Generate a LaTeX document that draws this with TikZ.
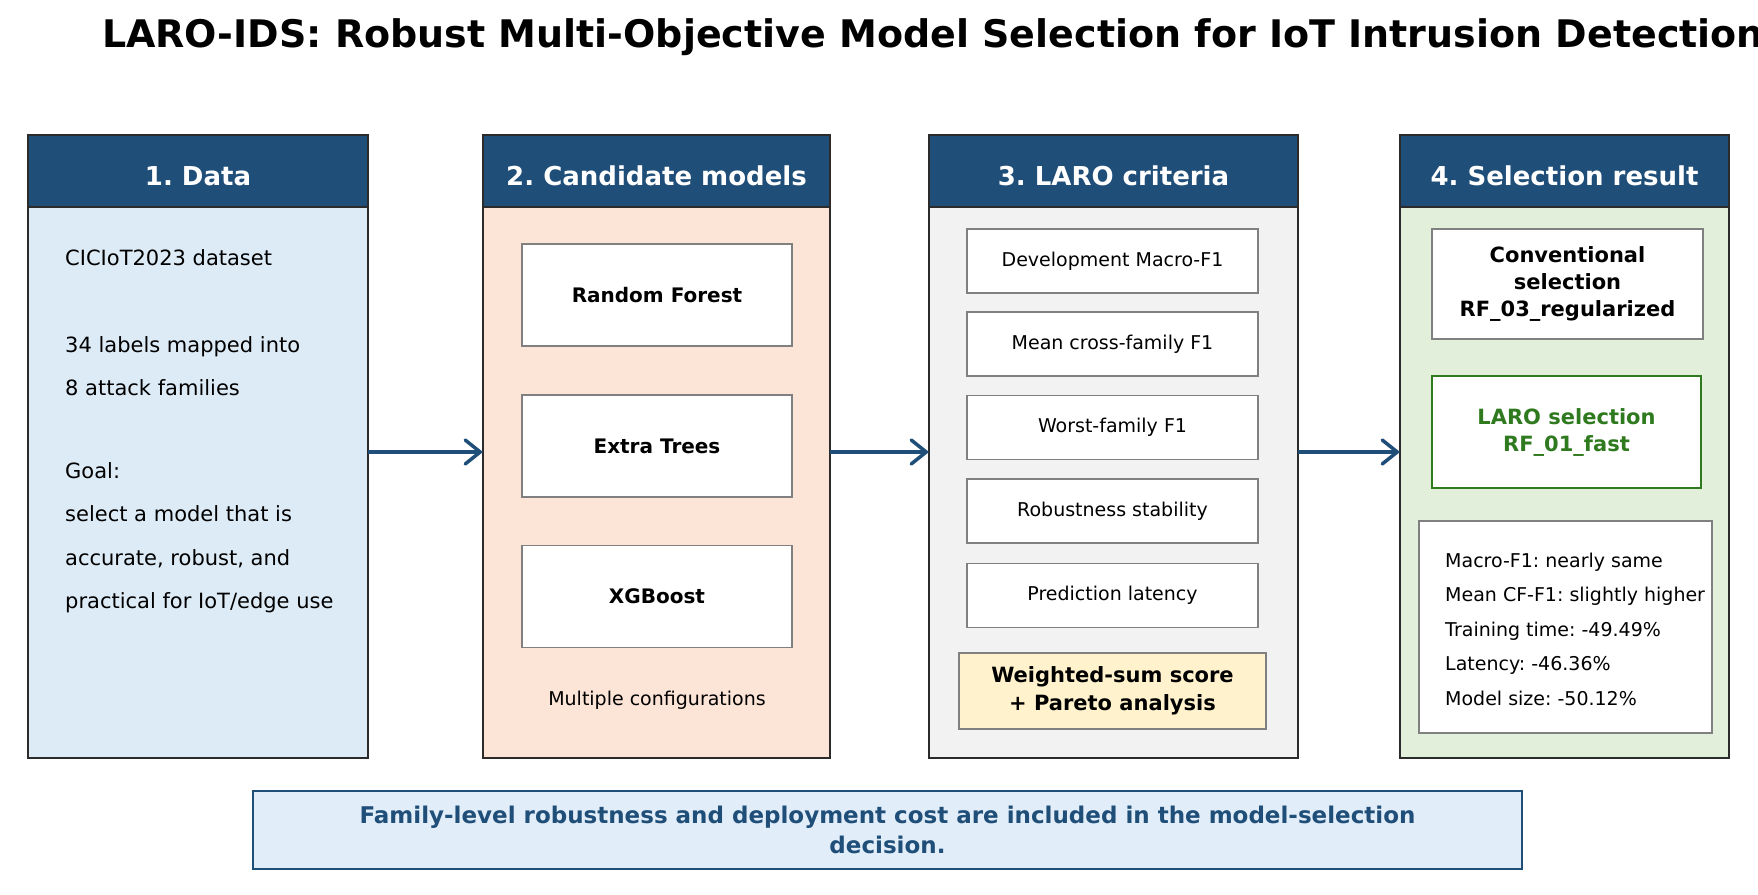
\documentclass[tikz,border=0pt]{standalone}
\usepackage{fontspec}
\setmainfont{DejaVu Sans}
\usetikzlibrary{arrows.meta}
\definecolor{hdr}{HTML}{1F4E79}
\definecolor{edge}{HTML}{2B2B2B}
\definecolor{gbox}{HTML}{808080}
\definecolor{cblue}{HTML}{DDEBF7}
\definecolor{cpeach}{HTML}{FCE4D6}
\definecolor{cgray}{HTML}{F2F2F2}
\definecolor{cgreen}{HTML}{E2EFDA}
\definecolor{cyellow}{HTML}{FFF2CC}
\definecolor{lgreen}{HTML}{2F7A1F}
\definecolor{cnote}{HTML}{E1EDF8}
\newcommand\myfs[2]{\fontsize{#1}{#2}\selectfont}
\frenchspacing
\begin{document}
\frenchspacing
\begin{tikzpicture}[x=1pt,y=-1pt,
  panel/.style={draw=edge, line width=2.5pt, inner sep=0pt, outer sep=0pt},
  header/.style={draw=edge, fill=hdr, line width=2.5pt, inner sep=0pt, outer sep=0pt},
  htext/.style={anchor=base, text=white, font=\frenchspacing\bfseries\myfs{26}{30}, inner sep=0pt},
  body/.style={anchor=base west, font=\frenchspacing\myfs{21}{25}, inner sep=0pt},
  ibox/.style={draw=gbox, fill=white, line width=1.3pt, inner sep=0pt, align=center},
  crit/.style={ibox, minimum width=291pt, minimum height=64pt, font=\myfs{19}{23}},
  model/.style={ibox, minimum width=270pt, minimum height=102pt, font=\bfseries\myfs{20}{24}},
  arr/.style={draw=hdr, line width=3.5pt, -{Straight Barb[length=15pt,width=24pt,line cap=round]}}
]
\useasboundingbox (0,0) rectangle (1758,894);
\fill[white] (0,0) rectangle (1758,894);

% title
\node[font=\frenchspacing\bfseries\myfs{38}{46}, inner sep=0pt] (title) at (933,37)
  {LARO-IDS: Robust Multi-Objective Model Selection for IoT Intrusion Detection};

% panels
\node[panel, fill=cblue, minimum width=340pt, minimum height=623pt] (p1) at (198,446.5) {};
\node[panel, fill=cpeach, minimum width=347pt, minimum height=623pt] (p2) at (656.5,446.5) {};
\node[panel, fill=cgray, minimum width=369pt, minimum height=623pt] (p3) at (1113.5,446.5) {};
\node[panel, fill=cgreen, minimum width=329pt, minimum height=623pt] (p4) at (1564.5,446.5) {};

\node[header, minimum width=340pt, minimum height=72pt] (h1) at (198,171) {};
\node[header, minimum width=347pt, minimum height=72pt] (h2) at (656.5,171) {};
\node[header, minimum width=369pt, minimum height=72pt] (h3) at (1113.5,171) {};
\node[header, minimum width=329pt, minimum height=72pt] (h4) at (1564.5,171) {};

\node[htext] (ht1) at (198,185) {1. Data};
\node[htext] (ht2) at (656.5,185) {2. Candidate models};
\node[htext] (ht3) at (1113.5,185) {3. LARO criteria};
\node[htext] (ht4) at (1564.5,185) {4. Selection result};

% panel 1 text
\node[body] (d1) at (65,265) {CICIoT2023 dataset};
\node[body] (d2) at (65,352) {34 labels mapped into};
\node[body] (d3) at (65,395) {8 attack families};
\node[body] (d4) at (65,478) {Goal:};
\node[body] (d5) at (65,521) {select a model that is};
\node[body] (d6) at (65,565) {accurate, robust, and};
\node[body] (d7) at (65,608) {practical for IoT/edge use};

% panel 2
\node[model] (rf) at (657,295) {Random Forest};
\node[model] (et) at (657,446) {Extra Trees};
\node[model] (xg) at (657,596.5) {XGBoost};
\node[anchor=base, font=\myfs{19}{23}, inner sep=0pt] (mc) at (657,705) {Multiple configurations};

% panel 3
\node[crit] (c1) at (1112.5,261) {Development Macro-F1};
\node[crit] (c2) at (1112.5,344) {Mean cross-family F1};
\node[crit] (c3) at (1112.5,427.5) {Worst-family F1};
\node[crit] (c4) at (1112.5,511) {Robustness stability};
\node[crit] (c5) at (1112.5,595.5) {Prediction latency};
\node[ibox, fill=cyellow, minimum width=307pt, minimum height=76pt, font=\bfseries\myfs{21}{28}] (ws) at (1112.5,691)
  {Weighted-sum score\\+ Pareto analysis};

% panel 4
\node[ibox, minimum width=271pt, minimum height=110pt, font=\bfseries\myfs{21}{27}] (conv) at (1567.5,284)
  {Conventional\\selection\\RF\_03\_regularized};
\node[ibox, draw=lgreen, line width=2.5pt, text=lgreen, minimum width=269pt, minimum height=112pt, font=\bfseries\myfs{21}{27}] (laro) at (1566.5,432)
  {LARO selection\\RF\_01\_fast};
\node[ibox, minimum width=293pt, minimum height=212pt] (stats) at (1565.5,627) {};
\node[anchor=west, align=left, font=\frenchspacing\myfs{19}{34.5}, inner sep=0pt] (st) at (1445,629)
  {Macro-F1: nearly same\\Mean CF-F1: slightly higher\\Training time: -49.49\%\\Latency: -46.36\%\\Model size: -50.12\%};

% arrows
\draw[arr] ([yshift=-5.5pt]p1.east) -- ([yshift=-5.5pt]p2.west);
\draw[arr] ([yshift=-5.5pt]p2.east) -- ([yshift=-5.5pt]p3.west);
\draw[arr] ([yshift=-5.5pt]p3.east) -- ([yshift=-5.5pt]p4.west);

% bottom note
\node[draw=hdr, fill=cnote, line width=2.5pt, minimum width=1269pt, minimum height=78pt, inner sep=0pt,
  align=center, text=hdr, font=\bfseries\myfs{23}{30}] (note) at (887.5,830)
  {Family-level robustness and deployment cost are included in the model-selection\\decision.};
\end{tikzpicture}
\end{document}
